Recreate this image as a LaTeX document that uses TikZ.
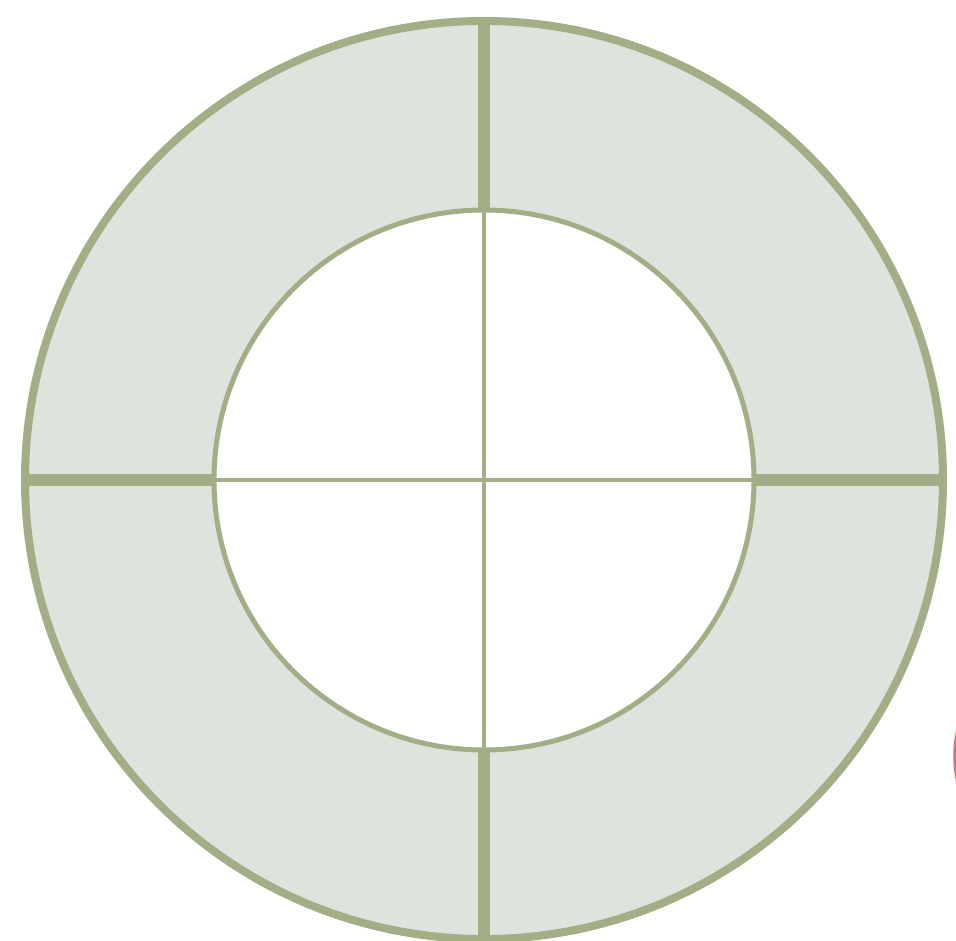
\documentclass[tikz,border=0pt]{standalone}
\definecolor{ringline}{HTML}{A3AD86}
\definecolor{ringfill}{HTML}{DFE3DE}
\definecolor{redmark}{HTML}{DC7078}
\begin{document}
\begin{tikzpicture}[x=1pt,y=-1pt,
  ringedge/.style={draw=ringline,line width=8pt},
  spoke/.style={draw=ringline,line width=12pt},
  crossline/.style={draw=ringline,line width=4pt},
  innerring/.style={draw=ringline,line width=5pt}]
\useasboundingbox (0,0) rectangle (956,941);
\fill[white] (0,0) rectangle (956,941);
\coordinate (c) at (484,480);
% ring fill
\fill[ringfill,even odd rule] (c) circle[radius=459] (c) circle[radius=270];
% spokes in the ring
\coordinate (ot) at (484,21);
\coordinate (it) at (484,210);
\coordinate (ob) at (484,939);
\coordinate (ib) at (484,750);
\coordinate (ol) at (25,480);
\coordinate (il) at (214,480);
\coordinate (or) at (943,480);
\coordinate (ir) at (754,480);
\draw[spoke] (ot) -- (it);
\draw[spoke] (ob) -- (ib);
\draw[spoke] (ol) -- (il);
\draw[spoke] (or) -- (ir);
% inner cross
\draw[crossline] (it) -- (ib);
\draw[crossline] (il) -- (ir);
% circles
\draw[ringedge] (c) circle[radius=459];
\draw[innerring] (c) circle[radius=270];
% red mark at right edge
\draw[redmark,line width=3pt] (962,715) arc[start angle=200,end angle=160,radius=120];
\end{tikzpicture}
\end{document}
